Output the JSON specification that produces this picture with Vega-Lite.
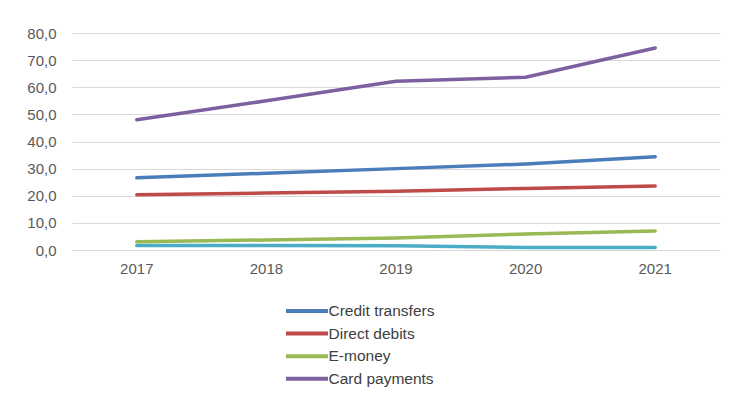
{
  "$schema": "https://vega.github.io/schema/vega-lite/v6.json",
  "width": 648,
  "height": 217,
  "autosize": {"type": "none"},
  "padding": {"left": 72, "top": 33, "right": 9, "bottom": 153},
  "background": "white",
  "config": {
    "view": {"stroke": null},
    "font": "Liberation Sans",
    "axis": {"labelFont": "Liberation Sans", "labelFontSize": 15, "labelColor": "#595959"},
    "legend": {"labelFont": "Liberation Sans", "labelFontSize": 15.5, "labelColor": "#404040"}
  },
  "data": {
    "values": [
      {"year": "2017", "series": "Credit transfers", "value": 26.6},
      {"year": "2018", "series": "Credit transfers", "value": 28.3},
      {"year": "2019", "series": "Credit transfers", "value": 30.0},
      {"year": "2020", "series": "Credit transfers", "value": 31.7},
      {"year": "2021", "series": "Credit transfers", "value": 34.4},
      {"year": "2017", "series": "Direct debits", "value": 20.4},
      {"year": "2018", "series": "Direct debits", "value": 21.0},
      {"year": "2019", "series": "Direct debits", "value": 21.7},
      {"year": "2020", "series": "Direct debits", "value": 22.7},
      {"year": "2021", "series": "Direct debits", "value": 23.6},
      {"year": "2017", "series": "E-money", "value": 3.0},
      {"year": "2018", "series": "E-money", "value": 3.7},
      {"year": "2019", "series": "E-money", "value": 4.4},
      {"year": "2020", "series": "E-money", "value": 5.9},
      {"year": "2021", "series": "E-money", "value": 7.0},
      {"year": "2017", "series": "Card payments", "value": 48.0},
      {"year": "2018", "series": "Card payments", "value": 55.0},
      {"year": "2019", "series": "Card payments", "value": 62.2},
      {"year": "2020", "series": "Card payments", "value": 63.7},
      {"year": "2021", "series": "Card payments", "value": 74.5},
      {"year": "2017", "series": "Other", "value": 1.7},
      {"year": "2018", "series": "Other", "value": 1.7},
      {"year": "2019", "series": "Other", "value": 1.6},
      {"year": "2020", "series": "Other", "value": 0.9},
      {"year": "2021", "series": "Other", "value": 0.9}
    ]
  },
  "encoding": {
    "x": {
      "field": "year", "type": "ordinal", "title": null,
      "scale": {"type": "band", "paddingInner": 0, "paddingOuter": 0},
      "axis": {"labelAngle": 0, "domain": false, "ticks": false, "labelPadding": 11, "grid": false}
    },
    "y": {
      "field": "value", "type": "quantitative", "title": null,
      "scale": {"domain": [0, 80], "nice": false},
      "axis": {
        "values": [0, 10, 20, 30, 40, 50, 60, 70, 80],
        "labelExpr": "replace(format(datum.value, '.1f'), '.', ',')",
        "domain": false, "ticks": false, "labelPadding": 16,
        "gridColor": "#d9d9d9", "gridWidth": 1
      }
    }
  },
  "layer": [
    {
      "transform": [{"filter": "datum.series === 'Other'"}],
      "mark": {"type": "line", "strokeWidth": 3.5, "strokeCap": "round", "color": "#4BACC6"},
      "encoding": {}
    },
    {
      "transform": [{"filter": "datum.series !== 'Other'"}],
      "mark": {"type": "line", "strokeWidth": 3.5, "strokeCap": "round", "strokeJoin": "round"},
      "encoding": {
        "color": {
          "field": "series", "type": "nominal",
          "scale": {
            "domain": ["Credit transfers", "Direct debits", "E-money", "Card payments"],
            "range": ["#4A7EBB", "#BE4B48", "#98B954", "#7D60A0"]
          },
          "legend": {
            "title": null,
            "orient": "none",
            "legendX": 225,
            "legendY": 268,
            "direction": "vertical",
            "symbolType": "M-2.625,0H2.625",
            "symbolSize": 256,
            "symbolStrokeWidth": 4,
            "rowPadding": 3.6,
            "labelOffset": 11.5
          }
        }
      }
    }
  ]
}
